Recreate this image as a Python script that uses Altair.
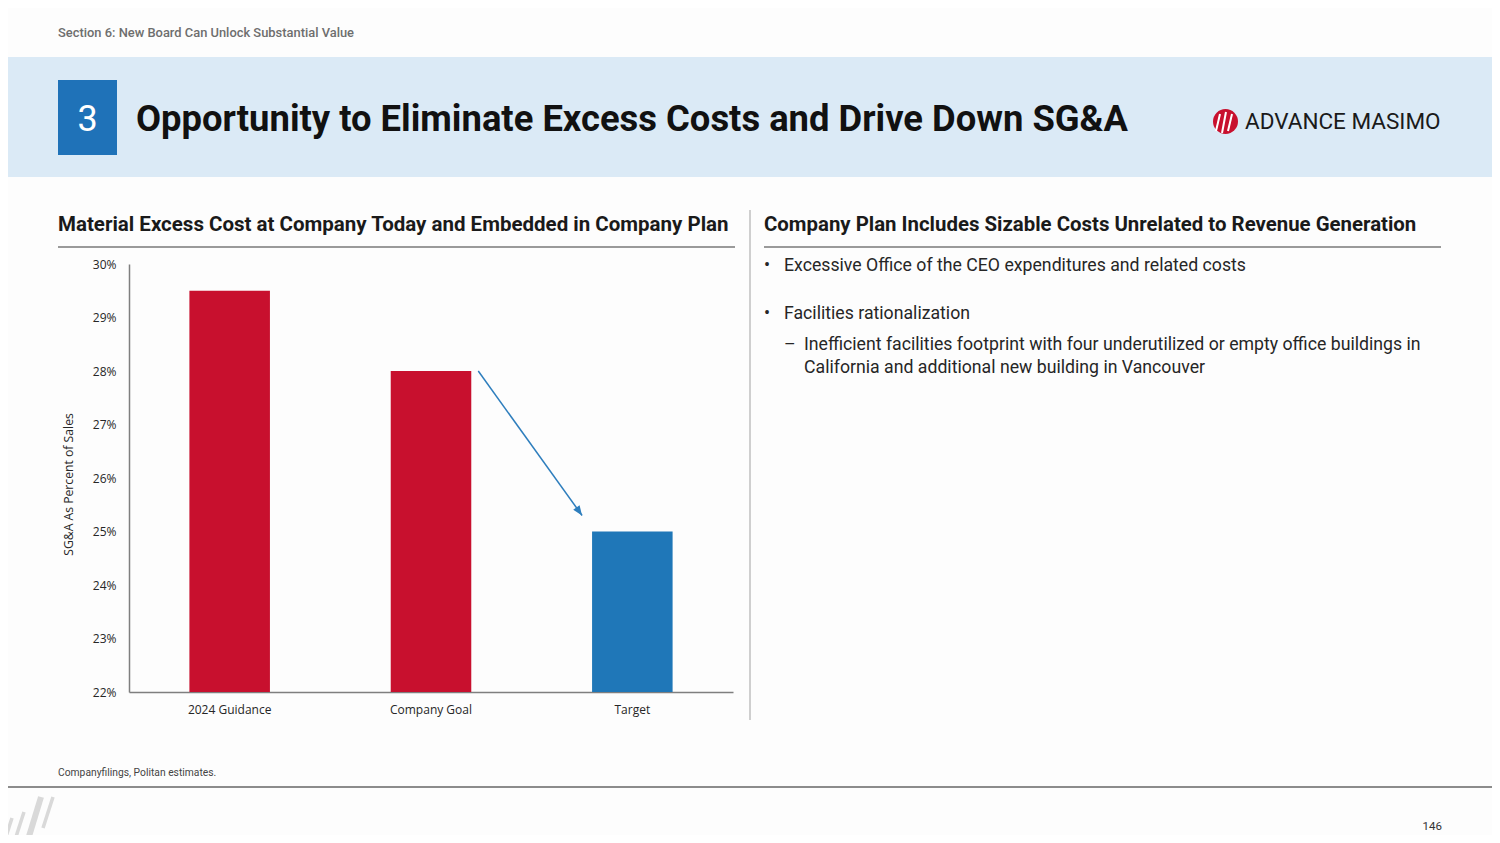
import altair as alt
import pandas as pd

# ---------------- data ----------------
categories = ["2024 Guidance", "Company Goal", "Target"]
sga_percent = [29.5, 28.0, 25.0]
bar_group = ["Company", "Company", "Target"]
y_ticks = [22, 23, 24, 25, 26, 27, 28, 29, 30]
arrow_from = "Company Goal"
arrow_to = "Target"
arrow_end_percent = 25.3

section_label = "Section 6: New Board Can Unlock Substantial Value"
section_number = "3"
slide_title = "Opportunity to Eliminate Excess Costs and Drive Down SG&A"
brand = "ADVANCE MASIMO"
left_heading = "Material Excess Cost at Company Today and Embedded in Company Plan"
right_heading = "Company Plan Includes Sizable Costs Unrelated to Revenue Generation"
bullets = ["Excessive Office of the CEO expenditures and related costs",
           "Facilities rationalization"]
sub_bullet = ["Inefficient facilities footprint with four underutilized or empty office buildings in",
              "California and additional new building in Vancouver"]
source_note = "Companyfilings, Politan estimates."
page_number = "146"
y_title = "SG&A As Percent of Sales"

# ---------------- layout (page pixels) ----------------
PL, PT = 129, 264          # plot origin on the page
PW, PH = 604, 428          # plot size
FONT = "Roboto"
AXFONT = "Open Sans"
RED = "#c8102e"
BLUE = "#1f77b8"

df = pd.DataFrame({"category": categories, "sga": sga_percent, "group": bar_group})
arrow_df = pd.DataFrame({"from": [arrow_from], "to": [arrow_to],
                         "y0": [sga_percent[categories.index(arrow_from)]],
                         "y1": [arrow_end_percent]})

one = alt.Data(values=[{}])


def txt(s, x, y, size, color="#1a1a1a", weight="normal", font=FONT, align="left",
        baseline="alphabetic", **kw):
    return alt.Chart(alt.Data(values=[{"t": s}])).mark_text(
        align=align, baseline=baseline, font=font, fontSize=size,
        fontWeight=weight, color=color, **kw
    ).encode(x=alt.value(x - PL), y=alt.value(y - PT), text="t:N")


def box(x0, y0, x1, y1, color):
    return alt.Chart(one).mark_rect(color=color).encode(
        x=alt.value(x0 - PL), x2=alt.value(x1 - PL),
        y=alt.value(y0 - PT), y2=alt.value(y1 - PT))


def line(x0, y0, x1, y1, color, w=1.0, cap="butt"):
    return alt.Chart(one).mark_rule(color=color, strokeWidth=w, strokeCap=cap).encode(
        x=alt.value(x0 - PL), x2=alt.value(x1 - PL),
        y=alt.value(y0 - PT), y2=alt.value(y1 - PT))


x_scale = alt.Scale(domain=categories, paddingInner=0.6, paddingOuter=0.3)
y_scale = alt.Scale(domain=[y_ticks[0], y_ticks[-1]], zero=False, nice=False)

x_axis = alt.Axis(title=None, labelAngle=0, ticks=False, tickSize=0, domainColor="#7f7f7f",
                  domainWidth=1.5, labelFont=AXFONT, labelFontSize=12,
                  labelColor="#262626", labelPadding=12)
y_axis = alt.Axis(title=y_title, values=y_ticks, labelExpr="datum.value + '%'", grid=False,
                  ticks=False, tickSize=0, domainColor="#7f7f7f", domainWidth=1.5,
                  labelFont=AXFONT, labelFontSize=12, labelColor="#262626", labelPadding=13,
                  titleFont=AXFONT, titleFontSize=12.2, titleFontWeight="normal",
                  titleColor="#262626", titleX=68 - PL, titleY=484 - PT, titleAngle=-90,
                  titleAlign="center", titleBaseline="middle")

bars = alt.Chart(df).mark_bar().encode(
    x=alt.X("category:N", scale=x_scale, axis=x_axis),
    y=alt.Y("sga:Q", scale=y_scale, axis=y_axis),
    y2=alt.datum(y_ticks[0]),
    color=alt.Color("group:N", scale=alt.Scale(domain=["Company", "Target"], range=[RED, BLUE]),
                    legend=None),
)

arrow_line = alt.Chart(arrow_df).mark_rule(color="#2e7ebd", strokeWidth=1.5, xOffset=7,
                                           x2Offset=-10).encode(
    x=alt.X("from:N", bandPosition=1, title=None),
    x2=alt.X2("to:N", bandPosition=0),
    y=alt.Y("y0:Q", title=y_title),
    y2="y1:Q",
)
arrow_head = alt.Chart(arrow_df).mark_point(
    shape="M0,0L-0.4,1L0.4,1Z", filled=True, size=380, angle=144.4, color="#2e7ebd",
    opacity=1, xOffset=-10, strokeWidth=0).encode(
    x=alt.X("to:N", bandPosition=0, title=None),
    y=alt.Y("y1:Q", title=y_title),
)

layers = [
    # header band and section number box
    box(0, 57, 1500, 177, "#dbeaf6"),
    box(58, 80, 117, 155, "#1f72b8"),
    txt(section_label, 58, 37, 12.9, color="#6e6e6e", weight=500),
    txt(section_number, 87.5, 131, 36, color="#ffffff", align="center"),
    txt(slide_title, 136, 131, 36.4, color="#111111", weight="bold"),
    # brand logo
    alt.Chart(one).mark_point(shape="circle", filled=True, size=625, color=RED, opacity=1,
                              strokeWidth=0).encode(x=alt.value(1225.5 - PL), y=alt.value(121.5 - PT)),
    line(1216, 131, 1220, 114, "#ffffff", 2),
    line(1222, 133, 1226, 112, "#ffffff", 2),
    line(1228, 131, 1232, 114, "#ffffff", 2),
    txt(brand, 1245, 129, 22.5, color="#1a1a1a"),
    # section headings
    txt(left_heading, 58, 231, 20.5, color="#1a1a1a", weight="bold"),
    line(58, 247, 735, 247, "#9a9a9a", 2),
    txt(right_heading, 764, 231, 20.4, color="#1a1a1a", weight="bold"),
    line(764, 247, 1441, 247, "#9a9a9a", 2),
    line(750, 210, 750, 720, "#cfcfcf", 2),
    # bullets
    txt("\u2022", 764, 271, 18, color="#262626"),
    txt(bullets[0], 784, 271, 17.7, color="#262626"),
    txt("\u2022", 764, 319, 18, color="#262626"),
    txt(bullets[1], 784, 319, 17.7, color="#262626"),
    txt("\u2013", 784, 350, 17.7, color="#262626"),
    txt(sub_bullet[0], 804, 350, 17.7, color="#262626"),
    txt(sub_bullet[1], 804, 373, 17.7, color="#262626"),
    # chart
    bars,
    arrow_line,
    arrow_head,
    # footer
    txt(source_note, 58, 776, 10.3, color="#444444"),
    line(8, 787, 1500, 787, "#8c8c8c", 2),
    line(41, 797, 27, 843, "#d9d9d9", 6),
    line(53, 797, 43, 828, "#d9d9d9", 3.5),
    line(24, 812, 14, 843, "#d9d9d9", 3.5),
    line(12, 818, 4, 843, "#d9d9d9", 3.5),
    txt(page_number, 1442, 830, 11.5, color="#333333", align="right"),
]

chart = alt.layer(*layers).properties(
    width=PW, height=PH,
    autosize=alt.AutoSizeParams(type="none"),
    padding={"left": PL - 8, "top": PT - 8, "right": 1492 - PL - PW, "bottom": 835 - PT - PH},
    background="#fdfdfd",
).configure_view(stroke=None)

chart.save("out.html", embed_options={"renderer": "svg", "actions": False})
